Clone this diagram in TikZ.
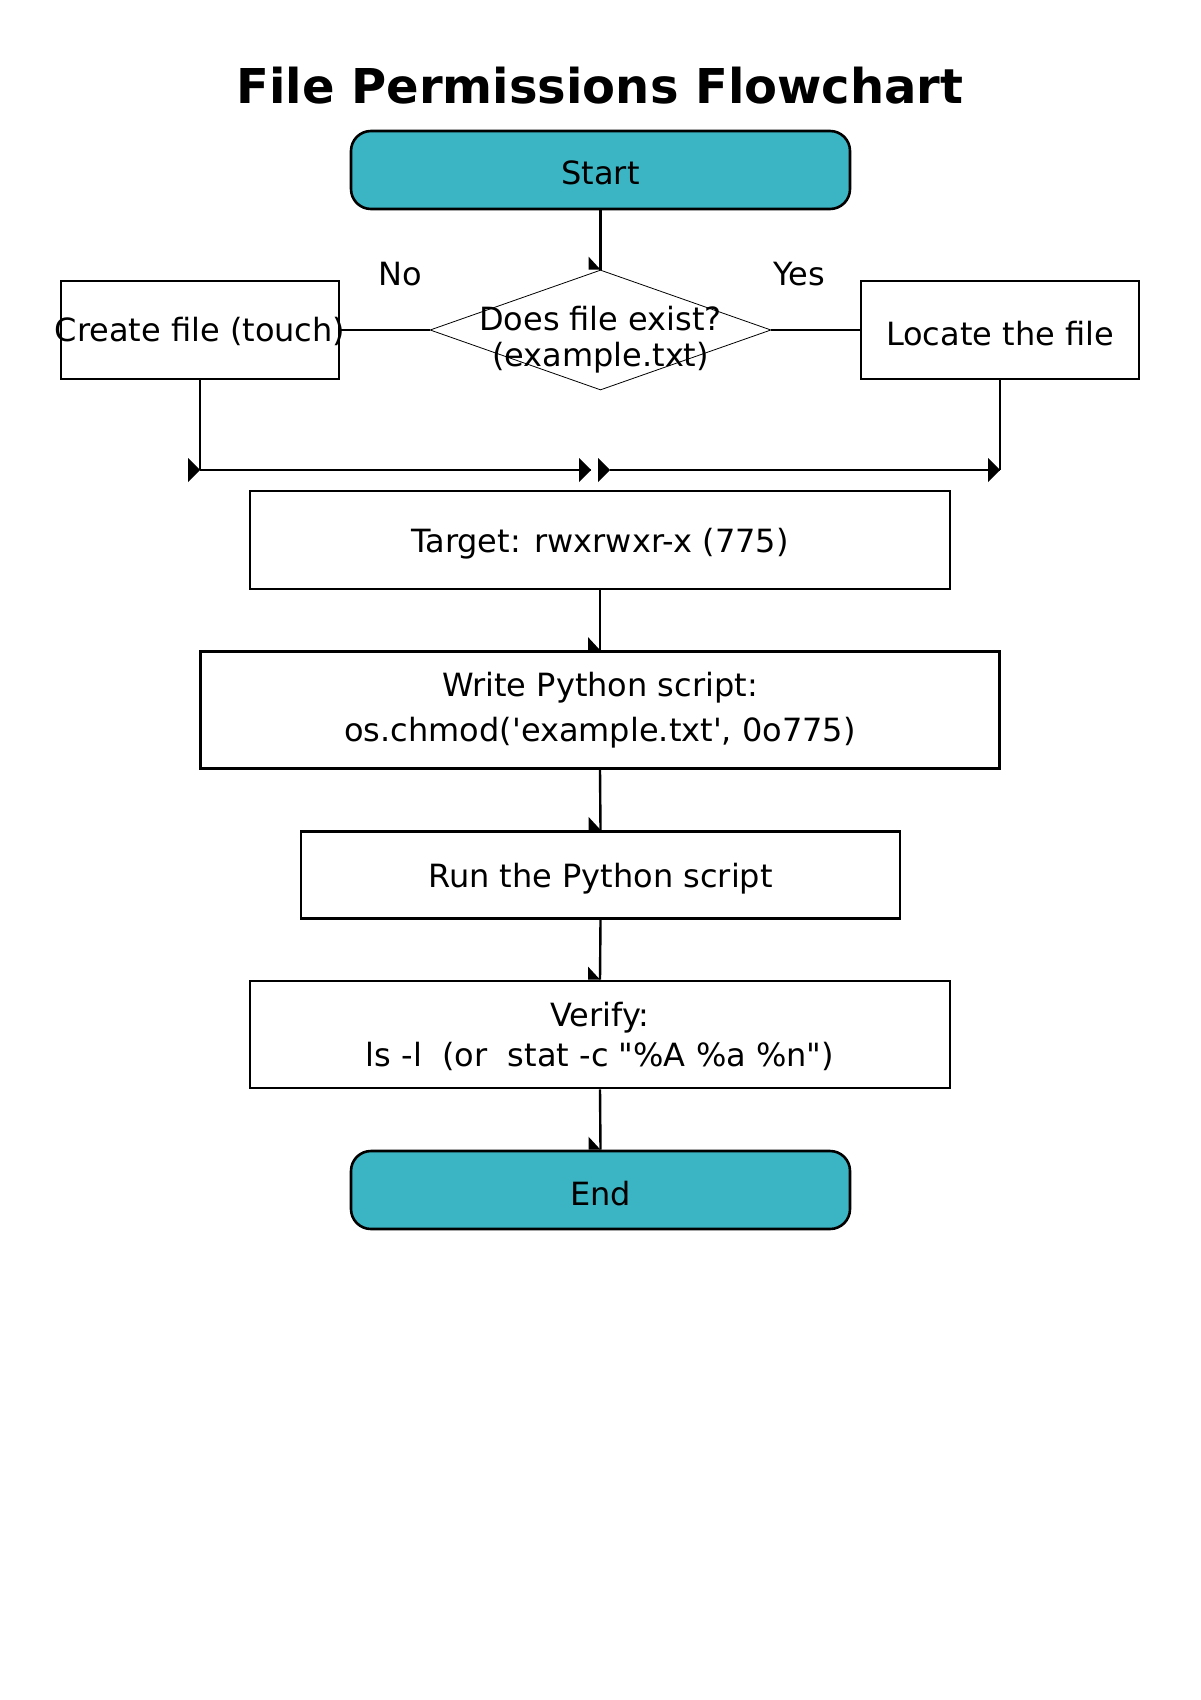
\documentclass[tikz,border=0pt]{standalone}
\usepackage{fontspec}
\setmainfont{DejaVu Sans}[Ligatures=TeXOff]
\usetikzlibrary{shapes.geometric}
\definecolor{termfill}{HTML}{3BB5C4}
\newcommand\halftip[1]{\fill (#1) -- ++(-12,0) -- ++(0,-13) -- cycle;}
\newcommand\righttip[1]{\fill (#1) -- ++(-12,-12) -- ++(0,24) -- cycle;}
\newcommand\lowered[2][1.6pt]{\raisebox{-#1}[\height][\depth]{#2}}
\begin{document}
\begin{tikzpicture}[x=0.5pt,y=-0.5pt,
  txt/.style={font=\fontsize{16}{20}\selectfont},
  term/.style={draw, line width=1.3pt, fill=termfill, rounded corners=10pt, minimum width=249.5pt, minimum height=39pt, inner sep=0pt, txt},
  proc/.style={draw, line width=1.4pt, fill=white, inner sep=0pt, align=center, txt},
  decision/.style={draw, diamond, line width=0.4pt, minimum width=170.5pt, minimum height=60pt, inner sep=0pt},
  conn/.style={line width=1.2pt},
  lbl/.style={inner sep=0pt, txt}
]
\useasboundingbox (0,0) rectangle (1200,1700);
\node[font=\fontsize{24}{28}\selectfont\bfseries] (title) at (600,86) {File Permissions Flowchart};

\node[term] (start) at (600.5,170) {\lowered{Start}};
\node[decision] (dec) at (600.5,330) {};
\node[lbl, align=center, font=\fontsize{16}{17.75}\selectfont] (dectext) at (600.5,339.5) {Does file exist?\\(example.txt)};
\node[proc, minimum width=139pt, minimum height=49pt] (create) at (200,330) {\makebox[0pt]{\lowered[0.5pt]{Create file (touch)}}};
\node[proc, minimum width=139pt, minimum height=49pt] (locate) at (1000,330) {\lowered{Locate the file}};
\node[lbl] (no) at (400,274) {No};
\node[lbl] (yes) at (799,274) {Yes};

\node[proc, minimum width=350pt, minimum height=49pt] (target) at (600,540) {\lowered{Target: rwxrwxr-x (775)}};
\node[proc, minimum width=399.5pt, minimum height=58.5pt, font=\fontsize{16}{22.5}\selectfont] (write) at (600,710) {Write Python script:\\os.chmod('example.txt', 0o775)};
\node[proc, minimum width=299.5pt, minimum height=43.75pt] (run) at (600.5,875) {\lowered{Run the Python script}};
\node[proc, minimum width=350pt, minimum height=53.5pt, font=\fontsize{16}{20}\selectfont] (verify) at (600,1034.5) {\lowered[2pt]{\begin{tabular}{@{}c@{}}Verify:\\ls -l\ \ (or\ \ stat -c "\%A \%a \%n")\end{tabular}}};
\node[term] (end) at (600.5,1190) {\lowered[2pt]{End}};

\coordinate (m1) at (200,470);
\coordinate (m2) at (591,470);
\coordinate (m3) at (610,470);
\coordinate (m4) at (1000,470);

\draw[conn] (start.south) -- (dec.north);
\halftip{dec.north}
\draw[conn] (dec.west) -- (create.east);
\draw[conn] (dec.east) -- (locate.west);
\draw[conn] (create.south) -- (m1);
\draw[conn] (locate.south) -- (m4);
\draw[conn] (m1) -- (m2);
\draw[conn] (m3) -- (m4);
\righttip{m1}
\righttip{m2}
\righttip{m3}
\righttip{m4}

\draw[conn] (target.south) -- (write.north);
\halftip{write.north}
\draw[conn] (write.south) -- (run.north);
\halftip{run.north}
\draw[conn] (run.south) -- (verify.north);
\halftip{verify.north}
\draw[conn] (verify.south) -- (end.north);
\halftip{end.north}
\end{tikzpicture}
\end{document}
